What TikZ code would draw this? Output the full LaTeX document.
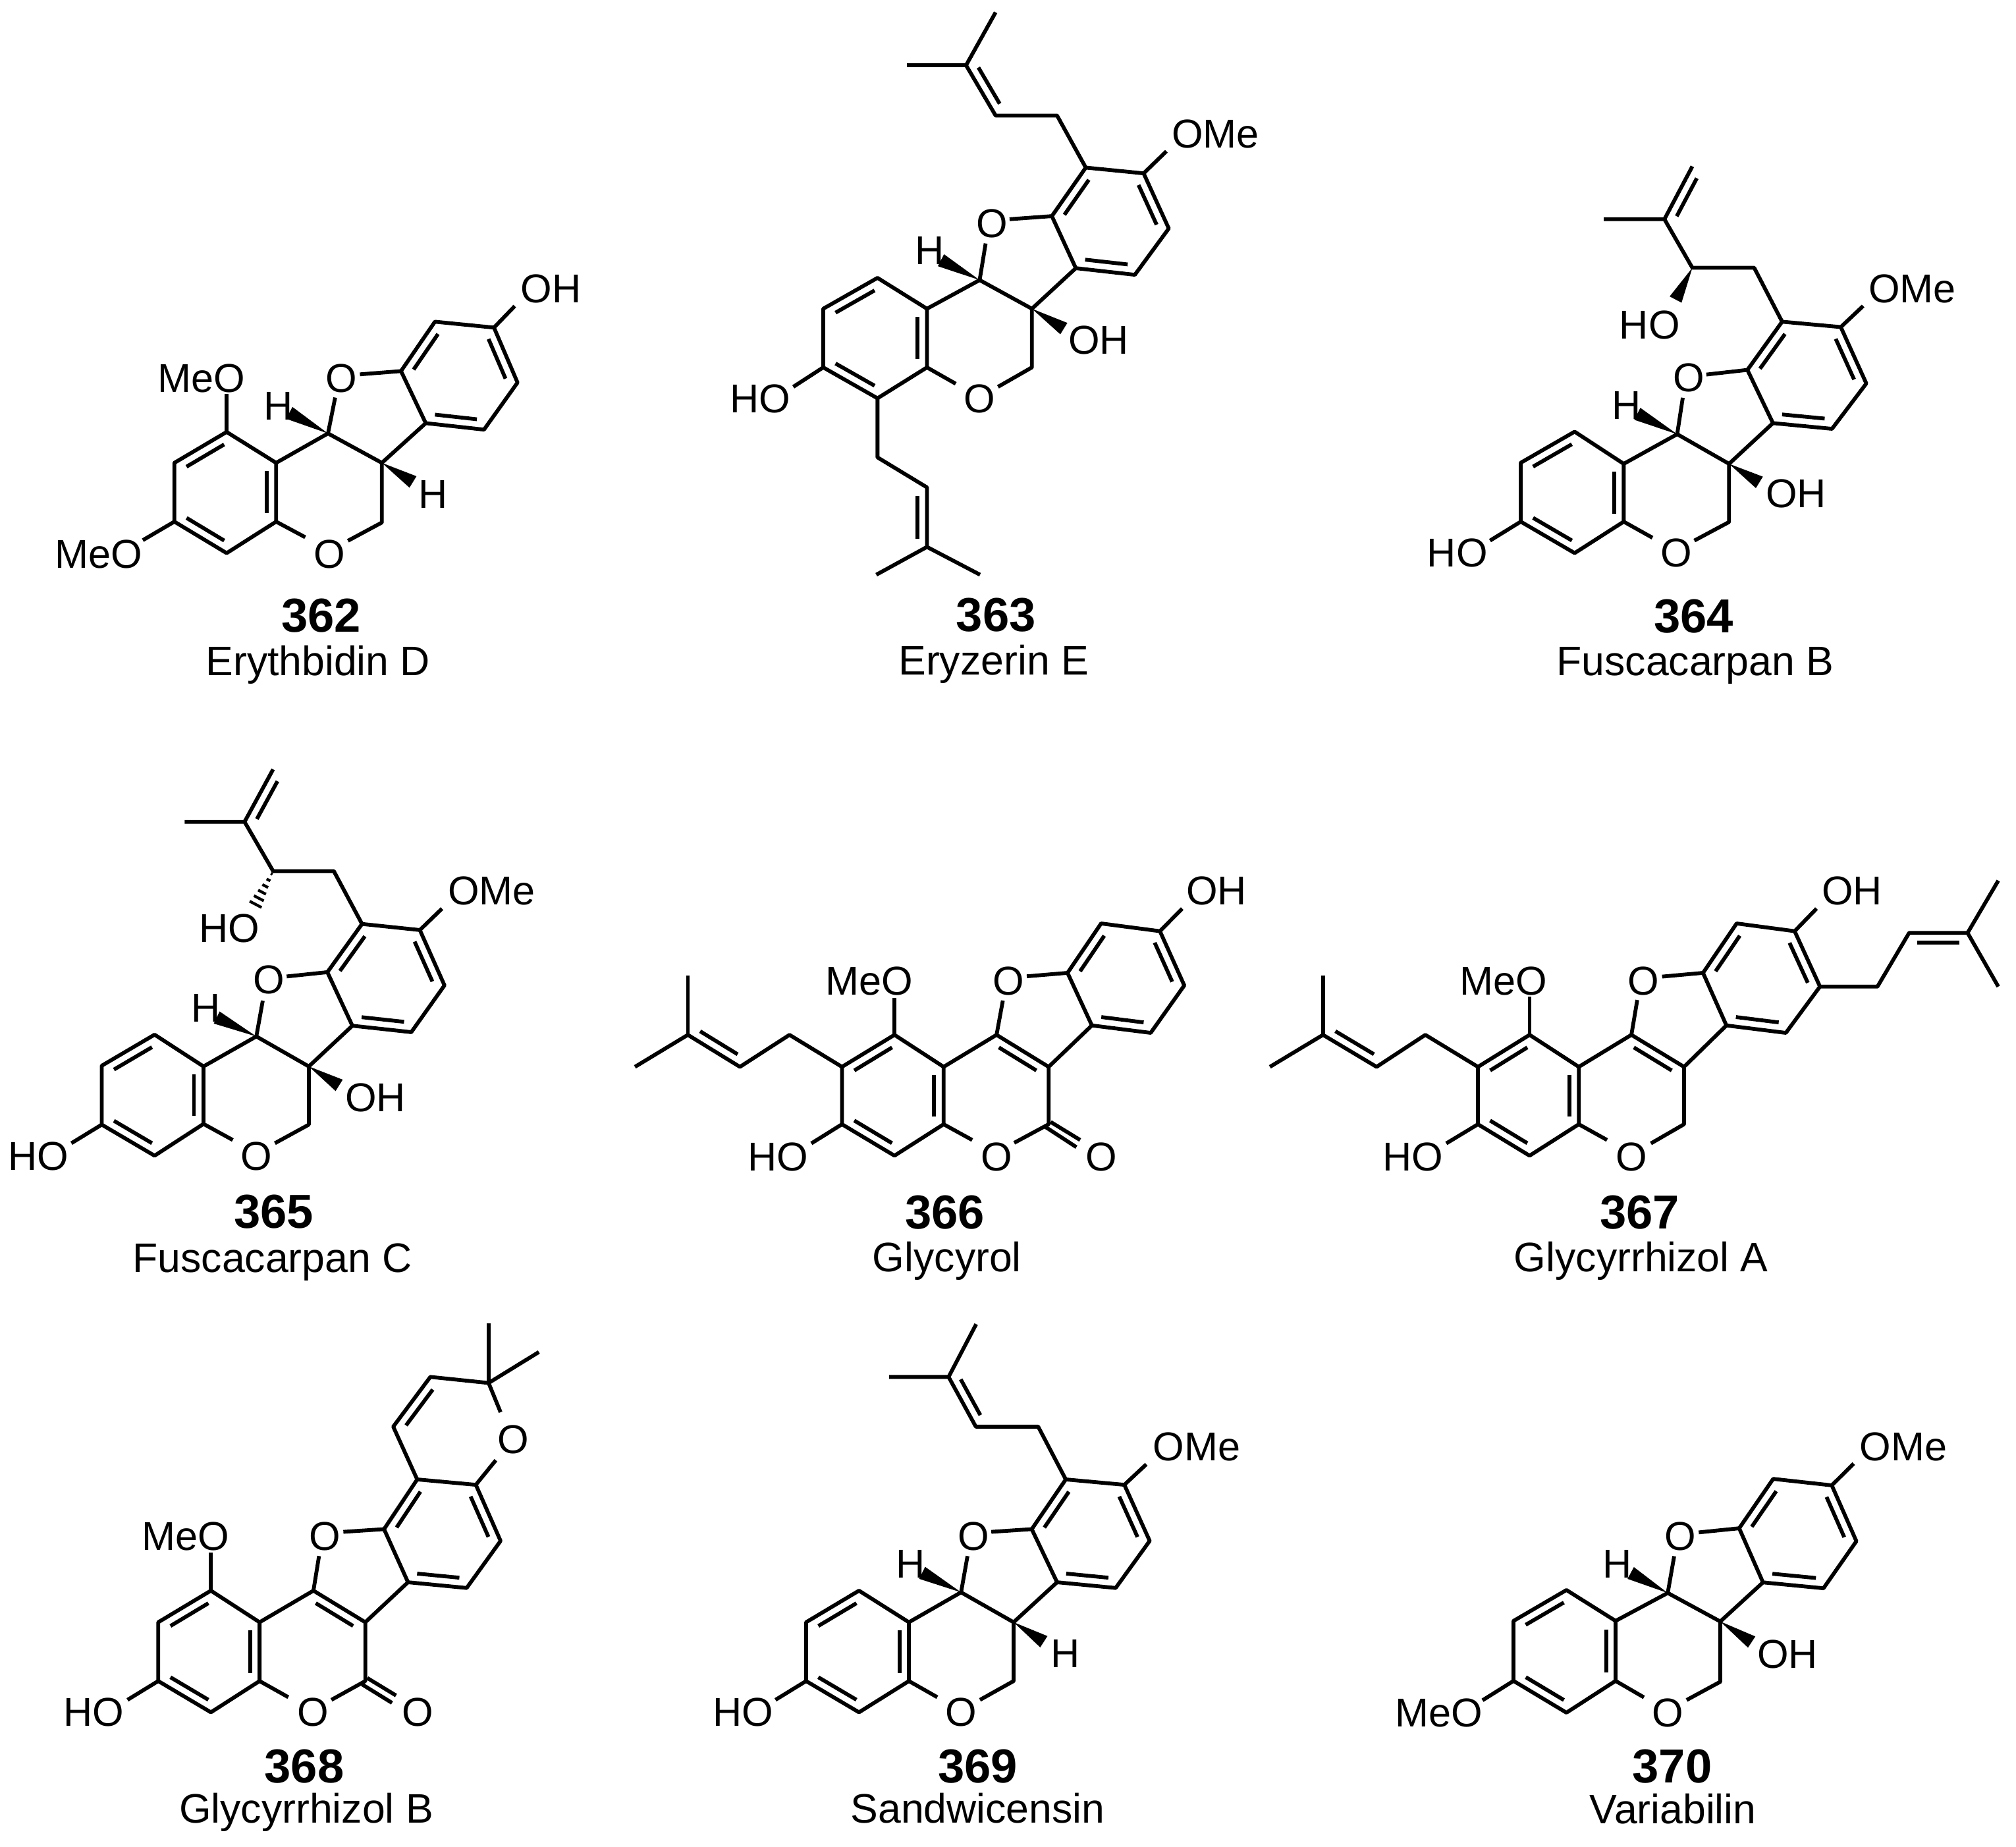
\documentclass[tikz,border=0pt]{standalone}
\usepackage{fontspec}
\setmainfont{Liberation Sans}
\usetikzlibrary{calc}
\tikzset{
  mol/.style n args={5}{name prefix=#1-,shift={(#2*0.1mm,-#3*0.1mm)},x={#4/1568*0.1mm},y={-#5/1568*0.1mm},line width=1.65pt,line cap=butt,line join=round},
  atomlab/.style={font=\fontsize{17.4}{17}\selectfont,anchor=base,inner sep=0pt},
  numlab/.style={font=\fontsize{20.6}{20}\selectfont\bfseries,anchor=base,inner sep=0pt},
  namelab/.style={font=\fontsize{17.8}{17}\selectfont,anchor=base,inner sep=0pt},
  hashline/.style={line width=1.2pt}
}
\newcommand\pts[1]{\foreach \nm/\x/\y in {#1} \coordinate (\nm) at (\x,\y);}
\newcommand\ib[2]{\draw ($(#1)!.14!(#2)!4.1pt!-90:(#2)$) -- ($(#2)!.14!(#1)!4.1pt!90:(#1)$);}
\newcommand\wdg[2]{\fill (#1) -- ($(#2)!2.9pt!90:(#1)$) -- ($(#2)!2.9pt!-90:(#1)$) -- cycle;}
\newcommand\hsh[2]{\foreach \t/\wd in {.08/.4,.26/.9,.44/1.4,.62/1.9,.8/2.4,.98/2.9}
  \draw[hashline] ($(#1)!\t!(#2)!\wd pt!90:(#2)$) -- ($(#1)!\t!(#2)!\wd pt!-90:(#2)$);}
\begin{document}
\begin{tikzpicture}
\useasboundingbox (0,0) rectangle (30.61,-28.03);

% 362
\begin{scope}[mol={m362}{0}{350}{950}{700}]
\pts{c1/568/685,c2/437/790,c3/437/990,c4/568/1097,c5/692/990,c6/692/790,c7/822/690,c8/957/790,c9/957/993,
a1/1005/478,a2/1090/310,a3/1238/330,a4/1297/517,a5/1213/677,a6/1067/655,
e1/765/1043,e2/872/1055,e3/840/568,e4/902/489,e5/1290/257,e6/568/555,e7/358/1053,e8/725/620,e9/1035/855}
\draw (c1)--(c6)--(c5)--(c4)--(c3)--(c2)--cycle;
\draw (c6)--(c7)--(c8)--(c9)--(e2);
\draw (c5)--(e1); \draw (c7)--(e3); \draw (a1)--(e4);
\draw (a1)--(a2)--(a3)--(a4)--(a5)--(a6)--cycle;
\draw (c8)--(a6); \draw (a3)--(e5); \draw (c1)--(e6); \draw (c3)--(e7);
\ib{c2}{c1}\ib{c6}{c5}\ib{c4}{c3}\ib{a1}{a2}\ib{a3}{a4}\ib{a5}{a6}
\wdg{c7}{e8}\wdg{c8}{e9}
\node[atomlab] (o1) at (825,1147) {O};
\node[atomlab] (o2) at (856,550) {O};
\node[atomlab] (oh) at (1381,245) {OH};
\node[atomlab] (ome1) at (504,550) {MeO};
\node[atomlab] (ome2) at (248,1147) {MeO};
\node[atomlab] (h1) at (697,643) {H};
\node[atomlab] (h2) at (1085,945) {H};
\node[numlab] (num) at (805,1365) {362};
\node[namelab] (nam) at (797,1513) {Erythbidin D};
\end{scope}

% 363
\begin{scope}[mol={m363}{1050}{0}{950}{1050}]
\pts{b1/330/700,b2/466/630,b3/590/700,b4/590/833,b5/466/903,b6/330/833,c7/722/635,c8/853/700,c9/853/833,
a1/903/490,a2/988/380,a3/1133/393,a4/1196/518,a5/1111/623,a6/963/608,
e1/662/870,e2/768/877,e3/737/552,e4/797/497,e5/1190/343,e6/255/877,e8/625/590,e9/933/745,
p1/916/262,p2/762/262,p3/688/148,p4/540/148,p5/762/28,q1/466/1037,q2/590/1105,q3/590/1240,q4/463/1303,q5/723/1303}
\draw (b1)--(b2)--(b3)--(b4)--(b5)--(b6)--cycle;
\draw (b3)--(c7)--(c8)--(c9)--(e2); \draw (b4)--(e1); \draw (c7)--(e3); \draw (a1)--(e4);
\draw (a1)--(a2)--(a3)--(a4)--(a5)--(a6)--cycle;
\draw (c8)--(a6); \draw (a3)--(e5); \draw (b6)--(e6);
\draw (a2)--(p1)--(p2)--(p3)--(p4); \draw (p3)--(p5);
\draw (b5)--(q1)--(q2)--(q3)--(q4); \draw (q3)--(q5);
\ib{b1}{b2}\ib{b3}{b4}\ib{b5}{b6}\ib{a1}{a2}\ib{a3}{a4}\ib{a5}{a6}\ib{p2}{p3}\ib{q2}{q3}
\wdg{c7}{e8}\wdg{c8}{e9}
\node[atomlab] (o1) at (722,935) {O};
\node[atomlab] (o2) at (753,538) {O};
\node[atomlab] (ho) at (172,935) {HO};
\node[atomlab] (ome) at (1313,335) {OMe};
\node[atomlab] (h1) at (596,600) {H};
\node[atomlab] (oh) at (1020,803) {OH};
\node[numlab] (num) at (763,1432) {363};
\node[namelab] (nam) at (757,1530) {Eryzerin E};
\end{scope}

% 364
\begin{scope}[mol={m364}{2100}{200}{950}{850}]
\pts{b1/345/927,b2/480/840,b3/603/930,b4/603/1092,b5/480/1180,b6/345/1092,c7/737/847,c8/867/930,c9/867/1093,
a1/913/667,a2/1000/532,a3/1147/547,a4/1211/705,a5/1125/832,a6/977/816,
e1/675/1137,e2/780/1145,e3/751/745,e4/810/680,e5/1203/488,e6/268/1145,e8/637/790,e9/943/982,
v1/930/381,v2/775/381,v3/705/245,v4/553/245,v5/775/97,v6/733/470}
\draw (b1)--(b2)--(b3)--(b4)--(b5)--(b6)--cycle;
\draw (b3)--(c7)--(c8)--(c9)--(e2); \draw (b4)--(e1); \draw (c7)--(e3); \draw (a1)--(e4);
\draw (a1)--(a2)--(a3)--(a4)--(a5)--(a6)--cycle;
\draw (c8)--(a6); \draw (a3)--(e5); \draw (b6)--(e6);
\draw (a2)--(v1)--(v2)--(v3)--(v4); \draw (v3)--(v5);
\ib{b1}{b2}\ib{b3}{b4}\ib{b5}{b6}\ib{a1}{a2}\ib{a3}{a4}\ib{a5}{a6}\ib{v3}{v5}
\wdg{c7}{e8}\wdg{c8}{e9}\wdg{v2}{v6}
\node[atomlab] (o1) at (735,1218) {O};
\node[atomlab] (o2) at (767,727) {O};
\node[atomlab] (ho) at (186,1218) {HO};
\node[atomlab] (ho2) at (668,580) {HO};
\node[atomlab] (ome) at (1326,478) {OMe};
\node[atomlab] (h1) at (610,805) {H};
\node[atomlab] (oh) at (1035,1053) {OH};
\node[numlab] (num) at (778,1402) {364};
\node[namelab] (nam) at (782,1522) {Fuscacarpan B};
\end{scope}

% 365
\begin{scope}[mol={m365}{0}{1130}{850}{850}]
\pts{b1/285/900,b2/433/813,b3/570/902,b4/570/1063,b5/433/1152,b6/285/1065,c7/718/818,c8/865/902,c9/865/1065,
a1/917/638,a2/1014/503,a3/1176/520,a4/1245/675,a5/1152/806,a6/987/788,
e1/652/1108,e2/770/1117,e3/736/718,e4/803/650,e5/1238/460,e6/200/1117,e8/607/765,e9/950/955,
v1/935/355,v2/765/355,v3/685/217,v4/517/217,v5/765/70,v6/715/450}
\draw (b1)--(b2)--(b3)--(b4)--(b5)--(b6)--cycle;
\draw (b3)--(c7)--(c8)--(c9)--(e2); \draw (b4)--(e1); \draw (c7)--(e3); \draw (a1)--(e4);
\draw (a1)--(a2)--(a3)--(a4)--(a5)--(a6)--cycle;
\draw (c8)--(a6); \draw (a3)--(e5); \draw (b6)--(e6);
\draw (a2)--(v1)--(v2)--(v3)--(v4); \draw (v3)--(v5);
\ib{b1}{b2}\ib{b3}{b4}\ib{b5}{b6}\ib{a1}{a2}\ib{a3}{a4}\ib{a5}{a6}\ib{v3}{v5}
\wdg{c7}{e8}\wdg{c8}{e9}\hsh{v2}{v6}
\node[atomlab] (o1) at (718,1192) {O};
\node[atomlab] (o2) at (753,698) {O};
\node[atomlab] (ho) at (107,1192) {HO};
\node[atomlab] (ho2) at (642,555) {HO};
\node[atomlab] (ome) at (1377,450) {OMe};
\node[atomlab] (h1) at (577,778) {H};
\node[atomlab] (oh) at (1052,1028) {OH};
\node[numlab] (num) at (767,1355) {365};
\node[namelab] (nam) at (763,1478) {Fuscacarpan C};
\end{scope}

% 366
\begin{scope}[mol={m366}{950}{1300}{1000}{680}]
\pts{r1/640/625,r2/757/737,r3/757/938,r4/640/1048,r5/515/938,r6/515/737,c7/883/625,c8/1007/737,c9/1007/938,
a1/1052/408,a2/1132/235,a3/1272/262,a4/1330/452,a5/1250/618,a6/1110/592,
e1/825/993,e2/925/1003,e3/898/505,e4/955/420,e5/1325/183,e6/442/1005,e7/640/495,
k1/1012/930,k2/1082/993,k3/1000/948,k4/1073/1018,
p1/390/625,p2/272/737,p3/148/625,p4/22/737,p5/148/417}
\draw (r1)--(r2)--(r3)--(r4)--(r5)--(r6)--cycle;
\draw (r2)--(c7)--(c8)--(c9)--(e2); \draw (r3)--(e1); \draw (c7)--(e3); \draw (a1)--(e4);
\draw (a1)--(a2)--(a3)--(a4)--(a5)--(a6)--cycle;
\draw (c8)--(a6); \draw (a3)--(e5); \draw (r5)--(e6); \draw (r1)--(e7);
\draw (k1)--(k2); \draw (k3)--(k4);
\draw (r6)--(p1)--(p2)--(p3)--(p4); \draw (p3)--(p5);
\ib{r6}{r1}\ib{r2}{r3}\ib{r4}{r5}\ib{c7}{c8}\ib{a1}{a2}\ib{a3}{a4}\ib{a5}{a6}\ib{p2}{p3}
\node[atomlab] (o1) at (883,1100) {O};
\node[atomlab] (o3) at (1133,1100) {O};
\node[atomlab] (o2) at (912,485) {O};
\node[atomlab] (ho) at (362,1100) {HO};
\node[atomlab] (ome) at (580,485) {MeO};
\node[atomlab] (oh) at (1407,170) {OH};
\node[numlab] (num) at (760,1303) {366};
\node[namelab] (nam) at (765,1455) {Glycyrol};
\end{scope}

% 367
\begin{scope}[mol={m367}{1900}{1300}{1160}{680}]
\pts{r1/571/625,r2/672/737,r3/672/938,r4/571/1048,r5/465/938,r6/465/737,c7/780/625,c8/888/737,c9/888/938,
a1/927/408,a2/996/235,a3/1115/262,a4/1167/456,a5/1097/618,a6/975/592,
e1/730/993,e2/820/1005,e3/792/503,e4/843/421,e5/1160/183,e6/400/1005,e7/571/490,
q1/1285/456,q2/1350/268,q3/1470/268,q4/1533/85,q5/1533/456,
p1/357/625,p2/257/737,p3/147/625,p4/38/737,p5/147/417}
\draw (r1)--(r2)--(r3)--(r4)--(r5)--(r6)--cycle;
\draw (r2)--(c7)--(c8)--(c9)--(e2); \draw (r3)--(e1); \draw (c7)--(e3); \draw (a1)--(e4);
\draw (a1)--(a2)--(a3)--(a4)--(a5)--(a6)--cycle;
\draw (c8)--(a6); \draw (a3)--(e5); \draw (r5)--(e6); \draw (r1)--(e7);
\draw (a4)--(q1)--(q2)--(q3)--(q4); \draw (q3)--(q5);
\draw (r6)--(p1)--(p2)--(p3)--(p4); \draw (p3)--(p5);
\ib{r6}{r1}\ib{r2}{r3}\ib{r4}{r5}\ib{c7}{c8}\ib{a1}{a2}\ib{a3}{a4}\ib{a5}{a6}\ib{p2}{p3}\ib{q2}{q3}
\node[atomlab] (o1) at (780,1100) {O};
\node[atomlab] (o2) at (805,485) {O};
\node[atomlab] (ho) at (332,1100) {HO};
\node[atomlab] (ome) at (518,485) {MeO};
\node[atomlab] (oh) at (1233,170) {OH};
\node[numlab] (num) at (797,1303) {367};
\node[namelab] (nam) at (800,1455) {Glycyrrhizol A};
\end{scope}

% 368
\begin{scope}[mol={m368}{50}{2000}{950}{800}]
\pts{r1/446/813,r2/568/907,r3/568/1082,r4/446/1175,r5/314/1082,r6/314/907,c7/703/813,c8/833/907,c9/833/1082,
a1/880/630,a2/963/482,a3/1110/498,a4/1172/665,a5/1087/805,a6/940/788,
e1/640/1130,e2/748/1138,e3/717/710,e4/778/638,e6/237/1138,e7/446/700,
k1/838/1073,k2/910/1125,k3/825/1092,k4/900/1147,
y1/903/325,y2/996/177,y3/1142/195,y4/1172/282,y5/1160/425,y6/1142/18,y7/1268/103}
\draw (r1)--(r2)--(r3)--(r4)--(r5)--(r6)--cycle;
\draw (r2)--(c7)--(c8)--(c9)--(e2); \draw (r3)--(e1); \draw (c7)--(e3); \draw (a1)--(e4);
\draw (a1)--(a2)--(a3)--(a4)--(a5)--(a6)--cycle;
\draw (c8)--(a6); \draw (r5)--(e6); \draw (r1)--(e7);
\draw (k1)--(k2); \draw (k3)--(k4);
\draw (a2)--(y1)--(y2)--(y3)--(y4); \draw (a3)--(y5); \draw (y3)--(y6); \draw (y3)--(y7);
\ib{r6}{r1}\ib{r2}{r3}\ib{r4}{r5}\ib{c7}{c8}\ib{a1}{a2}\ib{a3}{a4}\ib{a5}{a6}\ib{y1}{y2}
\node[atomlab] (o1) at (702,1217) {O};
\node[atomlab] (o3) at (965,1217) {O};
\node[atomlab] (o2) at (732,692) {O};
\node[atomlab] (o4) at (1204,405) {O};
\node[atomlab] (ho) at (153,1217) {HO};
\node[atomlab] (ome) at (382,692) {MeO};
\node[numlab] (num) at (680,1385) {368};
\node[namelab] (nam) at (685,1505) {Glycyrrhizol B};
\end{scope}

% 369
\begin{scope}[mol={m369}{1050}{2000}{900}{800}]
\pts{b1/303/907,b2/443/813,b3/575/907,b4/575/1082,b5/443/1175,b6/303/1082,c7/713/818,c8/852/907,c9/852/1082,
a1/900/630,a2/990/482,a3/1145/498,a4/1212/665,a5/1122/805,a6/967/788,
e1/650/1130,e2/763/1138,e3/730/710,e4/793/638,e5/1203/437,e6/222/1138,e8/610/760,e9/932/965,
p1/917/325,p2/752/325,p3/680/177,p4/523/177,p5/753/20}
\draw (b1)--(b2)--(b3)--(b4)--(b5)--(b6)--cycle;
\draw (b3)--(c7)--(c8)--(c9)--(e2); \draw (b4)--(e1); \draw (c7)--(e3); \draw (a1)--(e4);
\draw (a1)--(a2)--(a3)--(a4)--(a5)--(a6)--cycle;
\draw (c8)--(a6); \draw (a3)--(e5); \draw (b6)--(e6);
\draw (a2)--(p1)--(p2)--(p3)--(p4); \draw (p3)--(p5);
\ib{b1}{b2}\ib{b3}{b4}\ib{b5}{b6}\ib{a1}{a2}\ib{a3}{a4}\ib{a5}{a6}\ib{p2}{p3}
\wdg{c7}{e8}\wdg{c8}{e9}
\node[atomlab] (o1) at (713,1217) {O};
\node[atomlab] (o2) at (746,692) {O};
\node[atomlab] (ho) at (136,1217) {HO};
\node[atomlab] (ome) at (1336,427) {OMe};
\node[atomlab] (h1) at (580,775) {H};
\node[atomlab] (h2) at (988,1042) {H};
\node[numlab] (num) at (757,1385) {369};
\node[namelab] (nam) at (757,1505) {Sandwicensin};
\end{scope}

% 370
\begin{scope}[mol={m370}{2100}{2100}{900}{700}]
\pts{b1/345/808,b2/485/703,b3/615/808,b4/615/1012,b5/485/1120,b6/345/1012,c7/753/713,c8/892/810,c9/892/1015,
a1/942/493,a2/1032/325,a3/1187/347,a4/1252/537,a5/1165/697,a6/1005/677,
e1/690/1068,e2/803/1077,e3/770/588,e4/835/507,e5/1245/273,e6/263/1078,e8/655/645,e9/975/880}
\draw (b1)--(b2)--(b3)--(b4)--(b5)--(b6)--cycle;
\draw (b3)--(c7)--(c8)--(c9)--(e2); \draw (b4)--(e1); \draw (c7)--(e3); \draw (a1)--(e4);
\draw (a1)--(a2)--(a3)--(a4)--(a5)--(a6)--cycle;
\draw (c8)--(a6); \draw (a3)--(e5); \draw (b6)--(e6);
\ib{b1}{b2}\ib{b3}{b4}\ib{b5}{b6}\ib{a1}{a2}\ib{a3}{a4}\ib{a5}{a6}
\wdg{c7}{e8}\wdg{c8}{e9}
\node[atomlab] (o1) at (753,1168) {O};
\node[atomlab] (o2) at (786,568) {O};
\node[atomlab] (ome2) at (147,1168) {MeO};
\node[atomlab] (ome) at (1376,263) {OMe};
\node[atomlab] (h1) at (620,662) {H};
\node[atomlab] (oh) at (1070,968) {OH};
\node[numlab] (num) at (765,1358) {370};
\node[namelab] (nam) at (767,1497) {Variabilin};
\end{scope}
\end{tikzpicture}
\end{document}
